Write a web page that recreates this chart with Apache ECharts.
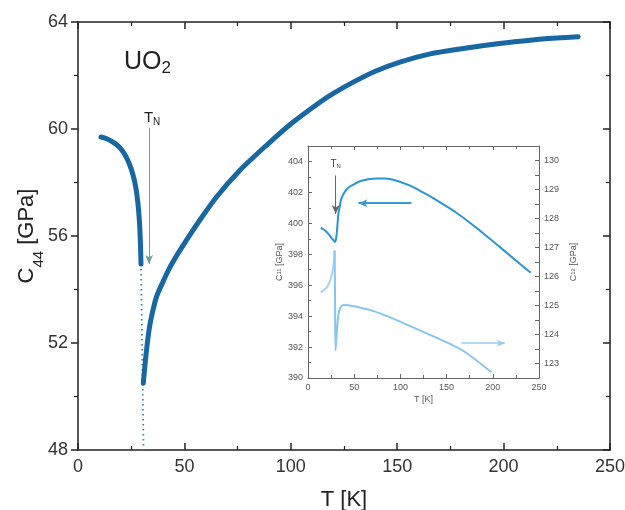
<!DOCTYPE html>
<html><head><meta charset="utf-8">
<script src="https://cdn.jsdelivr.net/npm/echarts@6/dist/echarts.min.js"></script>
<style>html,body{margin:0;padding:0;background:#fff}#c{width:625px;height:510px}</style>
</head><body><div id="c"></div>
<script>
// ---------- data ----------
const mainXRange = [0, 250];
const mainYRange = [48, 64];
const insetXRange = [0, 250];
const insetC11Range = [390, 405];
const insetC12Range = [122.5, 130.5];

// C44 below T_N
const c44Low = [[10.8,59.7],[14,59.62],[17,59.48],[19.7,59.3],[22,59.05],[24,58.72],[25.8,58.3],[27.2,57.8],[28.2,57.2],[28.9,56.5],[29.3,55.8],[29.6,54.95]];
// C44 above T_N
const c44High = [[30.7,50.5],[31.5,51.2],[32.3,51.8],[33.5,52.55],[35,53.15],[37,53.75],[40,54.3],[43,54.8],[47,55.35],[51,55.85],[56,56.45],[65,57.45],[76,58.45],[88.7,59.4],[101,60.25],[113.7,61.0],[120,61.33],[130,61.78],[140,62.17],[151.3,62.5],[165,62.8],[182.6,63.03],[198,63.2],[213.6,63.33],[225,63.4],[235,63.45]];
// dotted connector at T_N
const c44Gap = [[29.6,54.95],[30.8,48]];
// T_N marker (main)
const tnMain = [[33.4,60.04],[33.4,54.95]];

// inset: C11 (left axis)
const c11 = [[13.7,399.7],[17,399.6],[20.2,399.44],[23,399.25],[25.6,399.05],[27.5,398.92],[29.2,398.8],[30,398.9],[31,399.27],[32,400],[32.8,400.56],[34.5,401.15],[36.4,401.65],[40,402.05],[43.6,402.3],[49,402.5],[56.3,402.72],[65,402.85],[74.3,402.9],[82,402.9],[92.3,402.82],[110,402.45],[125,401.98],[139,401.5],[161,400.67],[182.5,399.7],[211,398.3],[241,396.8]];
// inset: C12 (right axis)
const c12Low = [[13.7,125.45],[17,125.53],[20.2,125.62],[22.5,125.75],[24.5,125.91],[26,126.1],[27.4,126.31],[28.2,126.55],[28.8,126.9]];
const c12High = [[28.8,126.9],[29.3,125.1],[29.7,123.45],[30.5,123.75],[31.7,124.3],[33,124.7],[34.6,124.9],[37,125.0],[40,125.03],[45,125.0],[49,124.98],[60,124.9],[67,124.85],[85,124.64],[110,124.3],[139,123.89],[168,123.44],[198.6,122.7]];
// inset annotations
const tnInset = [[30,403.1],[30,400.6]];
const arrowC11 = [[112,401.3],[54.5,401.3]];
const arrowC12 = [[166,123.7],[213,123.7]];

// ---------- chart ----------
const FONT = 'Liberation Sans, Arial, sans-serif';
const chart = echarts.init(document.getElementById('c'), null, {renderer:'canvas'});

function mainAxisCommon(showLabel, inside){
  return {
    axisLine:{show:true,onZero:false,lineStyle:{color:'#222',width:1.5}},
    axisTick:{show:true,inside:inside,length:7,lineStyle:{color:'#222',width:1.5}},
    minorTick:{show:true,splitNumber:2,length:4,lineStyle:{color:'#222',width:1.2}},
    splitLine:{show:false},
    axisLabel:{show:showLabel,color:'#333',fontSize:18,fontFamily:FONT}
  };
}
function insetAxisCommon(showLabel){
  return {
    axisLine:{show:true,onZero:false,lineStyle:{color:'#666',width:1}},
    axisTick:{show:true,inside:true,length:4,lineStyle:{color:'#666',width:1}},
    splitLine:{show:false},
    axisLabel:{show:showLabel,color:'#555',fontSize:9,fontFamily:FONT,margin:5}
  };
}

const option = {
  animation:false,
  backgroundColor:'#fff',
  grid:[
    {left:78,top:22,right:15,bottom:60,containLabel:false,outerBoundsMode:'none'},
    {left:308,top:146,width:231,height:232,containLabel:false,outerBoundsMode:'none',show:true,backgroundColor:'#fff',borderWidth:0}
  ],
  xAxis:[
    Object.assign(mainAxisCommon(true,true),{gridIndex:0,type:'value',min:mainXRange[0],max:mainXRange[1],interval:50,position:'bottom',
      name:'T [K]',nameLocation:'middle',nameGap:39,nameTextStyle:{fontSize:22,color:'#222',fontFamily:FONT},
      axisLabel:{color:'#333',fontSize:18,fontFamily:FONT,margin:8}}),
    Object.assign(mainAxisCommon(false,true),{gridIndex:0,type:'value',min:mainXRange[0],max:mainXRange[1],interval:50,position:'top'}),
    Object.assign(insetAxisCommon(true),{gridIndex:1,type:'value',min:insetXRange[0],max:insetXRange[1],interval:50,position:'bottom',
      minorTick:{show:true,splitNumber:2,length:3,lineStyle:{color:'#666'}},
      name:'T [K]',nameLocation:'middle',nameGap:17,nameTextStyle:{fontSize:9,color:'#555',fontFamily:FONT}}),
    Object.assign(insetAxisCommon(false),{gridIndex:1,type:'value',min:insetXRange[0],max:insetXRange[1],interval:50,position:'top',
      minorTick:{show:true,splitNumber:2,length:3,lineStyle:{color:'#666'}}})
  ],
  yAxis:[
    Object.assign(mainAxisCommon(true,false),{gridIndex:0,type:'value',min:mainYRange[0],max:mainYRange[1],interval:4,position:'left',
      name:'{a|C}{s|44}{a| [GPa]}',nameLocation:'middle',nameGap:40,nameRotate:90,nameMoveOverlap:false,
      nameTextStyle:{rich:{a:{fontSize:22,color:'#222',fontFamily:FONT},s:{fontSize:15,color:'#222',fontFamily:FONT,verticalAlign:'bottom',padding:[0,0,-8,0]}}},
      axisLabel:{color:'#333',fontSize:18,fontFamily:FONT,margin:10}}),
    Object.assign(mainAxisCommon(false,true),{gridIndex:0,type:'value',min:mainYRange[0],max:mainYRange[1],interval:4,position:'right'}),
    Object.assign(insetAxisCommon(true),{gridIndex:1,type:'value',min:insetC11Range[0],max:insetC11Range[1],interval:2,position:'left',
      minorTick:{show:true,splitNumber:2,length:3,lineStyle:{color:'#666'}},
      axisLabel:{color:'#555',fontSize:9,fontFamily:FONT,margin:5,showMaxLabel:false},
      name:'{a|C}{s|11}{a| [GPa]}',nameLocation:'middle',nameGap:22,nameRotate:90,
      nameTextStyle:{rich:{a:{fontSize:9,color:'#555',fontFamily:FONT},s:{fontSize:6,color:'#555',fontFamily:FONT}}}}),
    Object.assign(insetAxisCommon(true),{gridIndex:1,type:'value',min:insetC12Range[0],max:insetC12Range[1],interval:0.5,position:'right',
      axisLabel:{color:'#555',fontSize:9,fontFamily:FONT,margin:5,interval:0,formatter:function(v){return (Math.abs(v-Math.round(v))<1e-6)?String(Math.round(v)):'';}},
      name:'{a|C}{s|12}{a| [GPa]}',nameLocation:'middle',nameGap:30,nameRotate:90,
      nameTextStyle:{rich:{a:{fontSize:9,color:'#555',fontFamily:FONT},s:{fontSize:6,color:'#555',fontFamily:FONT}}}})
  ],
  graphic:[
    {type:'text',left:124,top:50,style:{text:'{a|UO}{s|2}',rich:{a:{fontSize:25,fill:'#222',fontFamily:FONT},s:{fontSize:17,fill:'#222',fontFamily:FONT,padding:[12,0,0,0]}}}}
  ],
  series:[
    {name:'C44 low',type:'line',xAxisIndex:0,yAxisIndex:0,data:c44Low,showSymbol:false,smooth:0.3,
      lineStyle:{color:'#1767a3',width:5,cap:'round'},z:3,
      markLine:{silent:true,symbol:['none','arrow'],symbolSize:[6,9],
        lineStyle:{color:'#6e9e9c',width:1,type:'solid'},
        label:{show:true,position:'start',distance:1,offset:[3,0],formatter:'{t|T}{n|N}',
          rich:{t:{fontSize:15,color:'#222',fontFamily:FONT},n:{fontSize:10,color:'#222',fontFamily:FONT,padding:[8,0,0,0]}}},
        data:[[{coord:tnMain[0]},{coord:tnMain[1]}]]}},
    {name:'C44 high',type:'line',xAxisIndex:0,yAxisIndex:0,data:c44High,showSymbol:false,smooth:0.3,
      lineStyle:{color:'#1767a3',width:5,cap:'round'},z:3},
    {name:'gap',type:'line',xAxisIndex:0,yAxisIndex:0,data:c44Gap,showSymbol:false,
      lineStyle:{color:'#3f82b8',width:1.8,type:[1.5,3.5]},z:2},
    {name:'C11',type:'line',xAxisIndex:2,yAxisIndex:2,data:c11,showSymbol:false,smooth:0.3,
      lineStyle:{color:'#2b95d4',width:2},z:4,
      markLine:{silent:true,symbol:['none','arrow'],symbolSize:[6,9],
        label:{show:false},
        data:[
          [{coord:tnInset[0],lineStyle:{color:'#666',width:1,type:'solid'},label:{show:true,position:'start',distance:6,formatter:'{t|T}{n|N}',rich:{t:{fontSize:10,color:'#444',fontFamily:FONT},n:{fontSize:6,color:'#444',fontFamily:FONT,padding:[5,0,0,0]}}}},{coord:tnInset[1]}],
          [{coord:arrowC11[0],lineStyle:{color:'#3a9ad8',width:2,type:'solid'}},{coord:arrowC11[1]}]
        ]}},
    {name:'C12 low',type:'line',xAxisIndex:2,yAxisIndex:3,data:c12Low,showSymbol:false,smooth:0.3,
      lineStyle:{color:'#a9d4f0',width:2},z:4},
    {name:'C12 high',type:'line',xAxisIndex:2,yAxisIndex:3,data:c12High,showSymbol:false,smooth:0.2,
      lineStyle:{color:'#86c5ec',width:2},z:4,
      markLine:{silent:true,symbol:['none','arrow'],symbolSize:[5,8],label:{show:false},
        lineStyle:{color:'#92ccef',width:1.5,type:'solid'},
        data:[[{coord:arrowC12[0]},{coord:arrowC12[1]}]]}}
  ]
};
chart.setOption(option);
</script>
</body></html>
